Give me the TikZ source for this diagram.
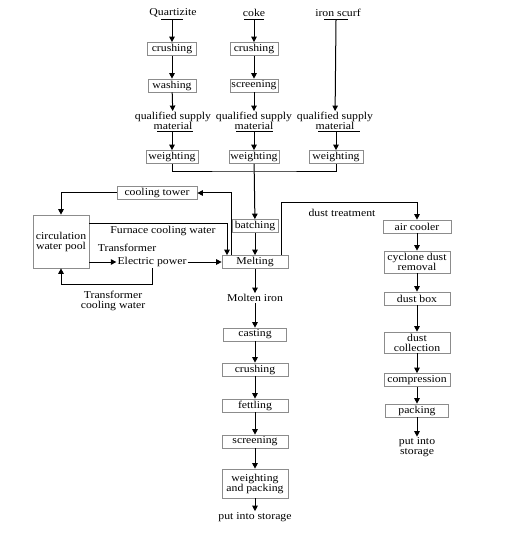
\documentclass[tikz,border=0pt]{standalone}
\usepackage{fontspec}
\setmainfont{Liberation Serif}[FakeStretch=1.12]
\usepackage{tikz}
\usetikzlibrary{arrows.meta}

\begin{document}
\begin{tikzpicture}[x=1pt,y=-1pt,font=\fontsize{10.5}{10}\selectfont]
\tikzstyle{box}=[draw=gray!90, line width=0.7pt, inner sep=1pt, minimum height=13pt, align=center]
\tikzstyle{txt}=[inner sep=1pt, align=center]
\tikzstyle{ln}=[line width=1pt]
\tikzstyle{arr}=[line width=1pt, -{Triangle[length=5.5pt,width=5.5pt]}]
\useasboundingbox (0,0) rectangle (519,534);

% raw materials
\node[txt] (q) at (173,13) {Quartizite};
\node[txt] (c) at (254,13) {coke};
\node[txt] (s) at (338,13) {iron scurf};
\coordinate (qb) at (172,20);
\coordinate (cb) at (254,20);
\coordinate (sb) at (336,20);
\draw[ln] ([xshift=-11pt]qb) -- ([xshift=11pt]qb);
\draw[ln] ([xshift=-10pt]cb) -- ([xshift=10pt]cb);
\draw[ln] ([xshift=-12pt]sb) -- ([xshift=12pt]sb);

\node[box, minimum width=49pt] (qc) at (172,49) {crushing};
\node[box, minimum width=48pt] (qa) at (172,85.5) {washing};
\node[box, minimum width=48pt] (cc) at (254,49) {crushing};
\node[box, minimum width=48pt] (cs) at (254,85.5) {screening};

\node[txt] (qq) at (173,121) {qualified supply\\material};
\node[txt] (cq) at (254,121) {qualified supply\\material};
\node[txt] (sq) at (335,121) {qualified supply\\material};
\coordinate (qu) at (172,132);
\coordinate (cu) at (254,132);
\coordinate (su) at (336,132);
\draw[ln] ([xshift=-15pt]qu) -- ([xshift=21pt]qu);
\draw[ln] ([xshift=-18pt]cu) -- ([xshift=19pt]cu);
\draw[ln] ([xshift=-18pt]su) -- ([xshift=24pt]su);

\node[box, minimum width=52pt] (qw) at (172,157) {weighting};
\node[box, minimum width=50pt] (cw) at (254,157) {weighting};
\node[box, minimum width=54pt] (sw) at (336,157) {weighting};

\path[arr]
(qb) edge (qc)
(qc) edge (qa)
(qa) edge (qq)
(qu) edge (qw)
(cb) edge (cc)
(cc) edge (cs)
(cs) edge (cq)
(cu) edge (cw)
(sb) edge (sq)
(su) edge (sw);

% batching and melting
\coordinate (j) at (254,172);
\draw[ln] (qw) |- (j) -| (sw);
\node[box, minimum width=46pt] (b) at (255,226) {batching};
\node[box, minimum width=66pt] (m) at (255,262) {Melting};
\draw[arr] (cw) -- (b);
\draw[arr] (b) -- (m);

% water and power
\node[box, minimum width=80pt] (ct) at (157,193) {cooling tower};
\node[box, minimum width=56pt, minimum height=53pt] (p) at (61,241.5) {circulation\\water pool};
\node[txt] (fw) at (163,231) {Furnace cooling water};
\node[txt] (t1) at (127,248) {Transformer};
\node[txt] (ep) at (152,262) {Electric power};
\node[txt] (t2) at (113,301) {Transformer\\cooling water};

\draw[arr] ([xshift=-24pt]m.north) |- (ct);
\draw[arr] (ct) -| (p);
\draw[arr] ([yshift=-9pt]p.north east) -| ([xshift=-28pt]m.north);
\draw[arr] (p.east |- ep) -- (ep);
\draw[arr] (ep) -- (m);
\draw[arr] (ep.south) -- ++(0,17) -| (p);

% dust treatment
\node[txt] (dt) at (342,213) {dust treatment};
\node[box, minimum width=68pt] (ac) at (417,226.5) {air cooler};
\node[box, minimum width=66pt, minimum height=22pt] (cy) at (417,262) {cyclone dust\\removal};
\node[box, minimum width=66pt] (db) at (417,298.5) {dust box};
\node[box, minimum width=66pt, minimum height=21pt] (dc) at (417,342.5) {dust\\collection};
\node[box, minimum width=66pt] (cp) at (417,380) {compression};
\node[box, minimum width=63pt] (pk) at (417,410.5) {packing};
\node[txt] (ds) at (417,447.5) {put into\\storage};

\draw[arr] ([xshift=26pt]m.north) -- ++(0,-53) -| (ac);
\path[arr]
(ac) edge (cy)
(cy) edge (db)
(db) edge (dc)
(dc) edge (cp)
(cp) edge (pk)
(pk) edge (ds);

% molten iron line
\node[txt] (mi) at (255,298) {Molten iron};
\node[box, minimum width=63pt] (ca) at (255,334.5) {casting};
\node[box, minimum width=66pt] (cr) at (255,369.5) {crushing};
\node[box, minimum width=66pt] (fe) at (255,405.5) {fettling};
\node[box, minimum width=66pt] (sc) at (255,441.5) {screening};
\node[box, minimum width=66pt, minimum height=29pt] (wp) at (255,483.5) {weighting\\and packing};
\node[txt] (st) at (255,517) {put into storage};

\path[arr]
(m) edge (mi)
(mi) edge (ca)
(ca) edge (cr)
(cr) edge (fe)
(fe) edge (sc)
(sc) edge (wp)
(wp) edge (st);
\end{tikzpicture}
\end{document}
